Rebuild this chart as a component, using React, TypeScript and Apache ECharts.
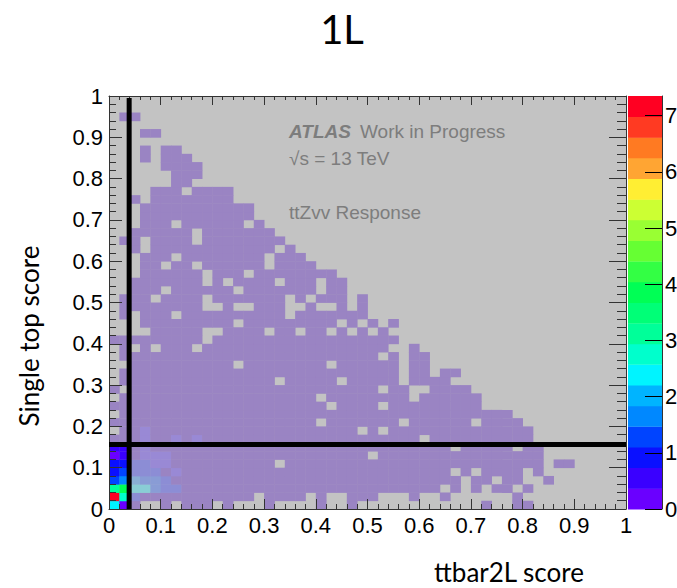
import React, { useEffect, useRef } from 'react';
import * as echarts from 'echarts';

// ---------- texts ----------
const CHART_TITLE = '1L';
const X_AXIS_TITLE = 'ttbar2L score';
const Y_AXIS_TITLE = 'Single top score';
const ATLAS_LABEL = 'ATLAS';
const ATLAS_SUFFIX = 'Work in Progress';
const ENERGY_LABEL = '√s = 13 TeV';
const SAMPLE_LABEL = 'ttZvv Response';

// ---------- binning / scales ----------
const N_BINS = 50;
const BIN_WIDTH = 0.02;
const AXIS_TICK_STEP = 0.1;
const Z_MAX = 7.35;
const N_CONTOURS = 20;
const COLORBAR_LABELS = [0, 1, 2, 3, 4, 5, 6, 7];

// selection cuts (black lines)
const CUT_X = 0.039;
const CUT_Y = 0.156;
const CUT_X_LINE_TOP = 0.995;

// value of the many low-occupancy bins (lowest contour)
const LOW_BIN_VALUE = 0.15;

// ROOT-like rainbow palette, lowest contour first
const PALETTE = [
  '#6a00ff', '#3a00ff', '#0a10ff', '#0044ff', '#0088ff',
  '#00b4ff', '#00f4ff', '#00ffcc', '#00ff99', '#00ff77',
  '#00ff55', '#33ff44', '#66ff33', '#99ff33', '#ccff33',
  '#ffee33', '#ffa533', '#ff7a22', '#ff3a22', '#ff0022',
];
const FADED_LOWEST = '#9a84c3';

// occupancy map: '#' = filled bin (lowest contour), '.' = empty.
// rows from y = 0.98-1.00 (top) down to y = 0.00-0.02 (bottom), columns x = 0 .. 1
const OCCUPANCY = [
  '.......... .......... .......... .......... ..........',
  '.......... .......... .......... .......... ..........',
  '.##....... .......... .......... .......... ..........',
  '.......... .......... .......... .......... ..........',
  '...##..... .......... .......... .......... ..........',
  '.......... .......... .......... .......... ..........',
  '...#.##... .......... .......... .......... ..........',
  '...#.###.. .......... .......... .......... ..........',
  '.....####. .......... .......... .......... ..........',
  '......###. .......... .......... .......... ..........',
  '......##.. .......... .......... .......... ..........',
  '....###.## ##........ .......... .......... ..........',
  '..#.###### ##........ .......... .......... ..........',
  '...####### ####...... .......... .......... ..........',
  '...####### ####...... .......... .......... ..........',
  '...###.### ###.#..... .......... .......... ..........',
  '..######.# ######.... .......... .......... ..........',
  '.##.####.# #######... .......... .......... ..........',
  '..#.###### ######.#.. .......... .......... ..........',
  '...###.### #####.###. .......... .......... ..........',
  '...##.##.# #####.#### .......... .......... ..........',
  '...######. ###.###### ##........ .......... ..........',
  '..#######. #.####.### .##....... .......... ..........',
  '..###.#### ##.####### .##....... .......... ..........',
  '.###.####. #######.#. ###.#..... .......... ..........',
  '.########. .#..###..# ..#.#..... .......... ..........',
  '.#.###.### #######.## #####..... .......... ..........',
  '...####### ##.####### ##.#.#.#.. .......... ..........',
  '....#####. .####.##.# #.#.#.#... .......... ..........',
  '#########. ########## ########.. .......... ..........',
  '.#.#.###.# ########## #######..# .......... ..........',
  '.######### ########## ######.#.# #......... ..........',
  '..######## ##.####### #.######.# #......... ..........',
  '.######### ########## ########.# #.##...... ..........',
  '.######### ######.### ##.#####.# ###....... ..........',
  '#.######## ########## ######.##. .####..... ..........',
  '.######### ########## .########. ######.... ..........',
  '########## ########## #.####.### ######.... ..........',
  '.######### ########## ########## #########. ..........',
  '########## ########## .#######.# #####.#### ..........',
  '.######### ########## ####.#.### ########## #.........',
  '########## ########## ########## .######### #.........',
  '########## ########## ########## ###.#####. ##........',
  '########## ########## #####.#### ########## ##........',
  '########## ######.### ########## ########## ##.##.....',
  '########## ########## ########## ###.#.#### .#........',
  '########## ########## ########## ####.##.## ..#.......',
  '########## ########## ########## ##.#.#.##. #.........',
  '########## ####.####. #..###...# ..#......# ..........',
  '###..#.### .#...#.... #..#...... ......#..# #.........',
];

// bins with higher content: [column, row (from bottom), value]
const BIN_VALUES: [number, number, number][] = [
  [0, 0, 2.4], [0, 1, 7.2], [0, 2, 3.1], [0, 3, 1.3], [0, 4, 0.9], [0, 5, 0.8], [0, 6, 0.3], [0, 7, 0.5],
  [1, 0, 0.35], [1, 1, 2.7], [1, 2, 4.0], [1, 3, 1.6], [1, 4, 1.2], [1, 5, 1.0], [1, 6, 0.6], [1, 7, 0.6],
  [2, 1, 0.8], [2, 2, 2.5], [3, 2, 2.3], [4, 2, 1.2], [5, 2, 1.0], [6, 2, 0.9],
  [2, 3, 1.5], [3, 3, 1.3], [4, 3, 1.2], [5, 3, 0.8],
  [2, 4, 1.1], [3, 4, 1.0], [4, 4, 0.8], [6, 4, 0.7],
  [2, 5, 0.9], [3, 5, 0.9], [4, 5, 0.7], [5, 5, 0.6],
  [3, 6, 0.7], [4, 6, 0.6], [5, 6, 0.5], [3, 7, 0.5],
  [3, 8, 0.6], [3, 9, 0.5], [6, 8, 0.45], [8, 8, 0.45],
];

// ---------- derived ----------
const FADE_GRAY = [190, 190, 196];
const FADE_ALPHA = 0.72;
function fade(hex: string): string {
  const c = [1, 3, 5].map((i) => parseInt(hex.slice(i, i + 2), 16));
  const m = c.map((v, i) => Math.round(v * (1 - FADE_ALPHA) + FADE_GRAY[i] * FADE_ALPHA));
  return 'rgb(' + m.join(',') + ')';
}
const FADED_PALETTE = PALETTE.map((c, k) => (k === 0 ? FADED_LOWEST : fade(c)));

function buildCells() {
  const values: number[][] = [];
  for (let c = 0; c < N_BINS; c++) values.push(new Array(N_BINS).fill(0));
  OCCUPANCY.forEach((line, r) => {
    const row = line.replace(/ /g, '');
    const j = N_BINS - 1 - r;
    for (let c = 0; c < N_BINS; c++) if (row[c] === '#') values[c][j] = LOW_BIN_VALUE;
  });
  BIN_VALUES.forEach(([c, j, v]) => (values[c][j] = v));
  const inside: number[][] = [];
  const outside: number[][] = [];
  for (let c = 0; c < N_BINS; c++) {
    for (let j = 0; j < N_BINS; j++) {
      const v = values[c][j];
      if (v <= 0) continue;
      const item = [c * BIN_WIDTH + BIN_WIDTH / 2, j * BIN_WIDTH + BIN_WIDTH / 2, v];
      if ((c + 1) * BIN_WIDTH <= CUT_X + 0.002 && (j + 1) * BIN_WIDTH <= CUT_Y + 0.005) inside.push(item);
      else outside.push(item);
    }
  }
  return { inside, outside };
}

const contourStep = Z_MAX / N_CONTOURS;
function contourIndex(v: number) {
  return Math.max(0, Math.min(N_CONTOURS - 1, Math.floor(v / contourStep)));
}

function cellRenderer(pal: string[]) {
  return (params: any, api: any) => {
    const x = api.value(0);
    const y = api.value(1);
    const v = api.value(2);
    const p0 = api.coord([x - BIN_WIDTH / 2, y + BIN_WIDTH / 2]);
    const p1 = api.coord([x + BIN_WIDTH / 2, y - BIN_WIDTH / 2]);
    return {
      type: 'rect',
      shape: { x: p0[0], y: p0[1], width: p1[0] - p0[0] + 0.4, height: p1[1] - p0[1] + 0.4 },
      style: { fill: pal[contourIndex(v)] },
    };
  };
}

const AXIS_COLOR = '#333';
const TICK_FONT = { fontFamily: 'Liberation Sans', fontSize: 22, color: '#000' };
const TITLE_FONT = 'Lato';
const NOTE_COLOR = '#7d7d7d';

function mainAxis(extra: any) {
  return {
    type: 'value',
    gridIndex: 0,
    min: 0,
    max: 1,
    interval: AXIS_TICK_STEP,
    z: 5,
    axisLine: { show: true, onZero: false, lineStyle: { color: AXIS_COLOR, width: 1 } },
    splitLine: { show: false },
    minorSplitLine: { show: false },
    ...extra,
  };
}

export default function App() {
  const ref = useRef<HTMLDivElement>(null);
  useEffect(() => {
    if (!ref.current) return;
    const chart = echarts.init(ref.current, undefined, { renderer: 'svg' });
    const { inside, outside } = buildCells();
    const colorbarData = PALETTE.map((_, k) => [0.5, (k + 0.5) * contourStep, k]);

    const option: any = {
      animation: false,
      backgroundColor: '#ffffff',
      grid: [
        { left: 109, top: 96, width: 517, height: 413, show: true, backgroundColor: '#c3c3c3', borderWidth: 0, containLabel: false, outerBoundsMode: 'none' },
        { left: 628, top: 96, width: 34, height: 413, show: false, containLabel: false, outerBoundsMode: 'none' },
      ],
      xAxis: [
        mainAxis({
          position: 'bottom',
          axisTick: { show: true, inside: true, length: 10, lineStyle: { color: AXIS_COLOR } },
          minorTick: { show: true, splitNumber: 5, length: 5, lineStyle: { color: AXIS_COLOR } },
          axisLabel: { ...TICK_FONT, margin: 5, showMinLabel: true, showMaxLabel: true },
        }),
        mainAxis({
          position: 'top',
          axisTick: { show: true, inside: true, length: 9, lineStyle: { color: AXIS_COLOR } },
          minorTick: { show: true, splitNumber: 5, length: 4, lineStyle: { color: AXIS_COLOR } },
          axisLabel: { show: false },
        }),
        { type: 'value', gridIndex: 1, min: 0, max: 1, show: false },
      ],
      yAxis: [
        mainAxis({
          position: 'left',
          axisTick: { show: true, inside: true, length: 13, lineStyle: { color: AXIS_COLOR } },
          minorTick: { show: true, splitNumber: 5, length: 7, lineStyle: { color: AXIS_COLOR } },
          axisLabel: { ...TICK_FONT, margin: 6, showMinLabel: true, showMaxLabel: true },
        }),
        mainAxis({
          position: 'right',
          axisTick: { show: true, inside: true, length: 17, lineStyle: { color: AXIS_COLOR } },
          minorTick: { show: true, splitNumber: 5, length: 9, lineStyle: { color: AXIS_COLOR } },
          axisLabel: { show: false },
        }),
        {
          type: 'value',
          gridIndex: 1,
          position: 'right',
          min: 0,
          max: Z_MAX,
          z: 5,
          axisLine: { show: true, onZero: false, lineStyle: { color: AXIS_COLOR, width: 1 } },
          axisTick: { show: true, inside: true, length: 17, customValues: COLORBAR_LABELS, lineStyle: { color: '#000' } },
          axisLabel: { ...TICK_FONT, margin: 3, customValues: COLORBAR_LABELS },
          splitLine: { show: false },
        },
      ],
      series: [
        {
          type: 'custom',
          xAxisIndex: 0,
          yAxisIndex: 0,
          renderItem: cellRenderer(FADED_PALETTE),
          encode: { x: 0, y: 1 },
          data: outside,
          silent: true,
          z: 2,
        },
        {
          type: 'custom',
          xAxisIndex: 0,
          yAxisIndex: 0,
          renderItem: cellRenderer(PALETTE),
          encode: { x: 0, y: 1 },
          data: inside,
          silent: true,
          z: 3,
        },
        {
          type: 'custom',
          xAxisIndex: 2,
          yAxisIndex: 2,
          encode: { x: 0, y: 1 },
          data: colorbarData,
          silent: true,
          z: 2,
          renderItem: (params: any, api: any) => {
            const k = api.value(2);
            const p0 = api.coord([0, (k + 1) * contourStep]);
            const p1 = api.coord([1, k * contourStep]);
            return {
              type: 'rect',
              shape: { x: p0[0], y: p0[1], width: p1[0] - p0[0], height: p1[1] - p0[1] + 0.4 },
              style: { fill: PALETTE[k] },
            };
          },
        },
        {
          type: 'line',
          xAxisIndex: 0,
          yAxisIndex: 0,
          data: [[CUT_X, 0], [CUT_X, CUT_X_LINE_TOP]],
          symbol: 'none',
          lineStyle: { color: '#000', width: 5 },
          z: 10,
          silent: true,
        },
        {
          type: 'line',
          xAxisIndex: 0,
          yAxisIndex: 0,
          data: [[0, CUT_Y], [1, CUT_Y]],
          symbol: 'none',
          lineStyle: { color: '#000', width: 5 },
          z: 10,
          silent: true,
        },
      ],
      graphic: [
        { type: 'text', x: 342, y: 29, style: { text: CHART_TITLE, fontFamily: TITLE_FONT, fontSize: 40, fill: '#000', align: 'center', verticalAlign: 'middle' } },
        { type: 'text', x: 29, y: 336, rotation: Math.PI / 2, style: { text: Y_AXIS_TITLE, fontFamily: TITLE_FONT, fontSize: 26, fill: '#000', align: 'center', verticalAlign: 'middle' } },
        { type: 'text', x: 509, y: 572, style: { text: X_AXIS_TITLE, fontFamily: TITLE_FONT, fontSize: 26, fill: '#000', align: 'center', verticalAlign: 'middle' } },
        { type: 'text', x: 289, y: 131, z: 20, style: { text: ATLAS_LABEL, fontFamily: 'Liberation Sans', fontSize: 19, fontWeight: 'bold', fontStyle: 'italic', fill: NOTE_COLOR, verticalAlign: 'middle' } },
        { type: 'text', x: 360, y: 131, z: 20, style: { text: ATLAS_SUFFIX, fontFamily: 'Liberation Sans', fontSize: 19, fill: NOTE_COLOR, verticalAlign: 'middle' } },
        { type: 'text', x: 289, y: 158, z: 20, style: { text: ENERGY_LABEL, fontFamily: 'Liberation Sans', fontSize: 19, fill: NOTE_COLOR, verticalAlign: 'middle' } },
        { type: 'text', x: 289, y: 212, z: 20, style: { text: SAMPLE_LABEL, fontFamily: 'Liberation Sans', fontSize: 19, fill: NOTE_COLOR, verticalAlign: 'middle' } },
      ],
    };
    chart.setOption(option);
    return () => chart.dispose();
  }, []);
  return <div ref={ref} style={{ position: 'absolute', left: 0, top: 0, width: 677, height: 588 }} />;
}
